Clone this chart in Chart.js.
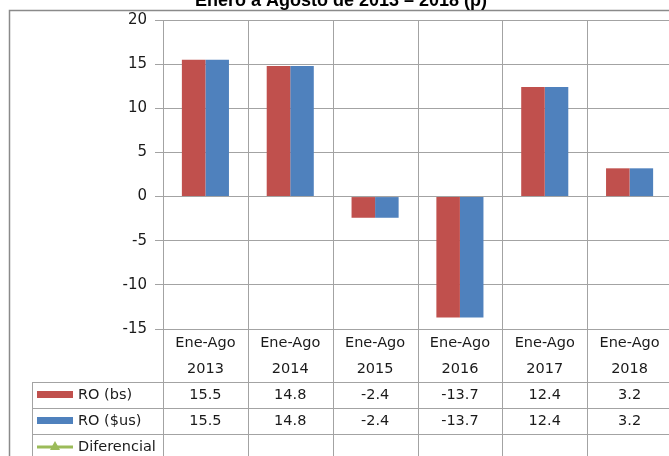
<!DOCTYPE html>
<html>
<head>
<meta charset="utf-8">
<script src="https://cdn.jsdelivr.net/npm/chart.js@4.4.1/dist/chart.umd.min.js"></script>
<style>
  html, body { margin: 0; padding: 0; background: #fff; }
  #wrap { width: 669px; height: 456px; overflow: hidden; position: relative; }
  canvas { display: block; }
</style>
</head>
<body>
<div id="wrap"><canvas id="chart" width="677" height="456"></canvas></div>
<script>
// data
const titleText = "Enero a Agosto de 2013 – 2018 (p)";
const periodLabel = "Ene-Ago";
const years = ["2013", "2014", "2015", "2016", "2017", "2018"];
const roBs = [15.5, 14.8, -2.4, -13.7, 12.4, 3.2];
const roUs = [15.5, 14.8, -2.4, -13.7, 12.4, 3.2];
const diferencial = [null, null, null, null, null, null];
const yMin = -15, yMax = 20, yStep = 5;

const RED = "#C0504D";
const BLUE = "#4F81BD";
const GREEN = "#9BBB59";
const GRID = "#a3a3a3";
const TXT = "#1a1a1a";
const FONT = "DejaVu Sans";

const fmt = v => (v === null ? "" : v.toFixed(1));

// rows under the plot: table with legend keys
const tablePlugin = {
    id: "dataTable",
    beforeDatasetsDraw(chart) {
        const ctx = chart.ctx;
        const x = chart.scales.x;
        const area = chart.chartArea;
        const half = (x.getPixelForValue(1) - x.getPixelForValue(0)) / 2;
        ctx.save();
        ctx.strokeStyle = GRID;
        ctx.lineWidth = 1;
        for (let i = 0; i <= years.length; i++) {
            const px = Math.round(x.getPixelForValue(i) - half) + 0.5;
            ctx.beginPath();
            ctx.moveTo(px, area.top);
            ctx.lineTo(px, 456);
            ctx.stroke();
        }
        ctx.restore();
    },
    afterDraw(chart) {
        const ctx = chart.ctx;
        const x = chart.scales.x;
        const area = chart.chartArea;
        const rowTop = area.bottom + 53;
        const rowH = 26;
        const tableLeft = 32;
        ctx.save();

        // outer border
        ctx.strokeStyle = "#8a8a8a";
        ctx.lineWidth = 1.5;
        ctx.beginPath();
        ctx.moveTo(9.5, 470);
        ctx.lineTo(9.5, 10.5);
        ctx.lineTo(700, 10.5);
        ctx.stroke();

        // title (clipped at top)
        ctx.fillStyle = "#000";
        ctx.font = "bold 18px 'Liberation Sans'";
        ctx.textAlign = "center";
        ctx.textBaseline = "alphabetic";
        ctx.fillText(titleText, 341, 6);

        // table lines
        ctx.strokeStyle = GRID;
        ctx.lineWidth = 1;
        for (let r = 0; r < 3; r++) {
            const y = Math.round(rowTop + r * rowH) + 0.5;
            ctx.beginPath();
            ctx.moveTo(tableLeft, y);
            ctx.lineTo(700, y);
            ctx.stroke();
        }
        ctx.beginPath();
        ctx.moveTo(tableLeft + 0.5, rowTop);
        ctx.lineTo(tableLeft + 0.5, 470);
        ctx.stroke();

        // category header
        ctx.fillStyle = TXT;
        ctx.font = "14.5px '" + FONT + "'";
        ctx.textAlign = "center";
        ctx.textBaseline = "middle";
        years.forEach((yr, i) => {
            const cx = x.getPixelForValue(i);
            ctx.fillText(periodLabel, cx, area.bottom + 14);
            ctx.fillText(yr, cx, area.bottom + 40);
            ctx.fillText(fmt(roBs[i]), cx, rowTop + rowH / 2);
            ctx.fillText(fmt(roUs[i]), cx, rowTop + rowH * 1.5);
            ctx.fillText(fmt(diferencial[i]), cx, rowTop + rowH * 2.5);
        });

        // legend keys
        const names = chart.data.datasets.map(d => d.label);
        ctx.textAlign = "left";
        [RED, BLUE].forEach((c, r) => {
            const cy = rowTop + rowH * r + rowH / 2;
            ctx.fillStyle = c;
            ctx.fillRect(37, cy - 4, 36, 7);
            ctx.fillStyle = TXT;
            ctx.fillText(names[r], 78, cy);
        });
        const cy = rowTop + rowH * 2.5;
        ctx.strokeStyle = GREEN;
        ctx.lineWidth = 3;
        ctx.beginPath();
        ctx.moveTo(37, cy);
        ctx.lineTo(73, cy);
        ctx.stroke();
        ctx.fillStyle = GREEN;
        ctx.beginPath();
        ctx.moveTo(55, cy - 6);
        ctx.lineTo(60, cy + 3);
        ctx.lineTo(50, cy + 3);
        ctx.closePath();
        ctx.fill();
        ctx.fillStyle = TXT;
        ctx.fillText(names[2], 78, cy);

        ctx.restore();
    }
};

new Chart(document.getElementById("chart"), {
    type: "bar",
    data: {
        labels: years.map(y => periodLabel + " " + y),
        datasets: [
            { label: "RO (bs)", data: roBs, backgroundColor: RED, barPercentage: 1, categoryPercentage: 0.555 },
            { label: "RO ($us)", data: roUs, backgroundColor: BLUE, barPercentage: 1, categoryPercentage: 0.555 },
            { type: "line", label: "Diferencial", data: diferencial, borderColor: GREEN, backgroundColor: GREEN, pointStyle: "triangle" },
        ],
    },
    options: {
        responsive: false,
        animation: false,
        layout: { padding: { top: 20, bottom: 127, left: 0, right: 4 } },
        plugins: {
            legend: { display: false },
            title: { display: false },
            tooltip: { enabled: false },
        },
        scales: {
            x: { display: false, offset: true },
            y: {
                min: yMin,
                max: yMax,
                afterFit: s => { s.width = 163; },
                ticks: {
                    stepSize: yStep,
                    color: TXT,
                    padding: 8,
                    font: { family: FONT, size: 15 },
                },
                grid: { color: GRID, tickLength: 8 },
                border: { color: GRID },
            },
        },
    },
    plugins: [tablePlugin],
});
</script>
</body>
</html>
